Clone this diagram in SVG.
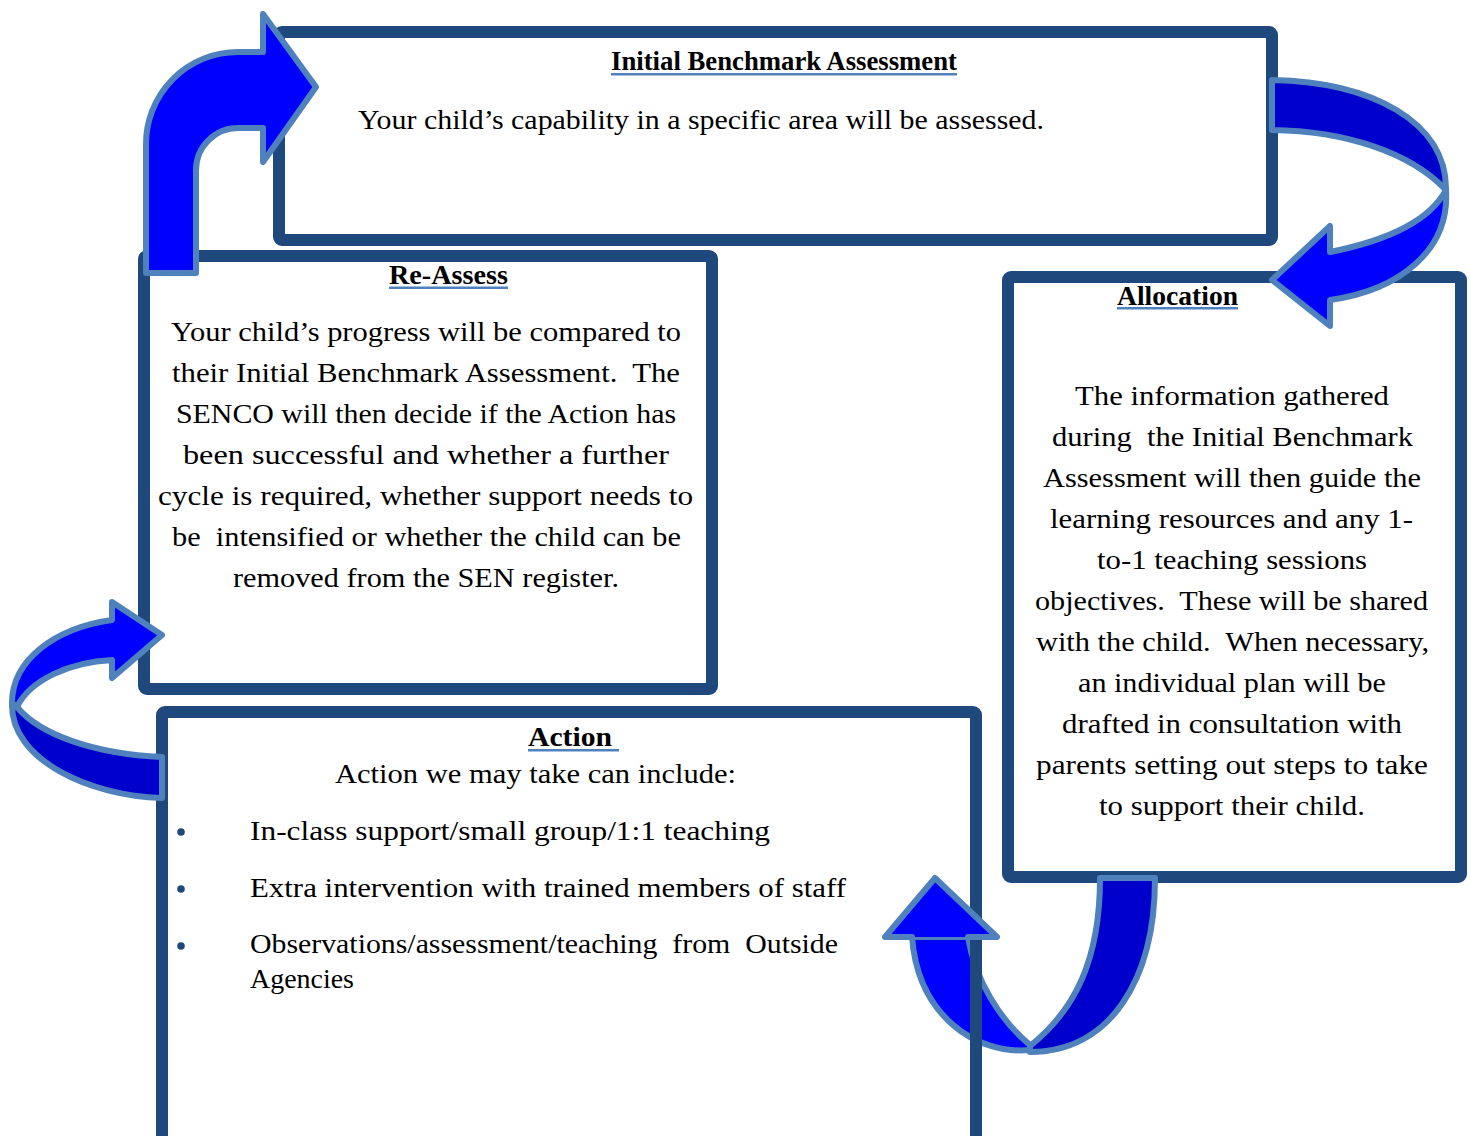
<svg xmlns="http://www.w3.org/2000/svg" width="1470" height="1136" viewBox="0 0 1470 1136" xml:space="preserve">
<style>
.box{fill:#fff;stroke:#1F497D;stroke-width:12;stroke-linejoin:round}
.t{font-family:"Liberation Serif",serif;font-size:28px;fill:#000;white-space:pre}
.h{font-family:"Liberation Serif",serif;font-size:28px;font-weight:bold;fill:#000}
.ul{fill:#4F81BD}
.lt{fill:#0000FF;stroke:#4F81BD;stroke-width:6;stroke-linejoin:round}
.dk{fill:#0000CC;stroke:#4F81BD;stroke-width:6;stroke-linejoin:round}
.hs{fill:none;stroke:#4F81BD;stroke-width:6;stroke-linejoin:round;stroke-linecap:round}
.bul{fill:#1F497D}
</style>
<defs>
<clipPath id="cut"><rect x="0" y="0" width="970" height="1136"/><rect x="982" y="0" width="488" height="1136"/></clipPath>
</defs>
<rect width="1470" height="1136" fill="#fff"/>
<g id="initial">
<rect class="box" x="279" y="32" width="993" height="208" rx="3"/>
<text class="h" x="611" y="70" textLength="346" lengthAdjust="spacingAndGlyphs">Initial Benchmark Assessment</text>
<rect class="ul" x="611" y="73" width="346" height="2.5"/>
<text class="t" x="358" y="129" textLength="686" lengthAdjust="spacingAndGlyphs">Your child’s capability in a specific area will be assessed.</text>
</g>
<g id="reassess">
<rect class="box" x="144" y="256" width="568" height="433" rx="3"/>
<text class="h" x="389" y="284" textLength="119" lengthAdjust="spacingAndGlyphs">Re-Assess</text>
<rect class="ul" x="389" y="286.5" width="119" height="2.5"/>
<text class="t" x="171" y="341" textLength="510" lengthAdjust="spacingAndGlyphs">Your child’s progress will be compared to</text>
<text class="t" x="172" y="382" textLength="508" lengthAdjust="spacingAndGlyphs">their Initial Benchmark Assessment.  The</text>
<text class="t" x="176" y="423" textLength="500" lengthAdjust="spacingAndGlyphs">SENCO will then decide if the Action has</text>
<text class="t" x="183" y="464" textLength="486" lengthAdjust="spacingAndGlyphs">been successful and whether a further</text>
<text class="t" x="158" y="505" textLength="535" lengthAdjust="spacingAndGlyphs">cycle is required, whether support needs to</text>
<text class="t" x="172" y="546" textLength="509" lengthAdjust="spacingAndGlyphs">be  intensified or whether the child can be</text>
<text class="t" x="233" y="587" textLength="386" lengthAdjust="spacingAndGlyphs">removed from the SEN register.</text>
</g>
<g id="allocation">
<rect class="box" x="1008" y="277" width="453" height="600" rx="3"/>
<text class="h" x="1117" y="305" textLength="121" lengthAdjust="spacingAndGlyphs">Allocation</text>
<rect class="ul" x="1117" y="307" width="121" height="2.5"/>
<text class="t" x="1075" y="405" textLength="314" lengthAdjust="spacingAndGlyphs">The information gathered</text>
<text class="t" x="1052" y="446" textLength="361" lengthAdjust="spacingAndGlyphs">during  the Initial Benchmark</text>
<text class="t" x="1043" y="487" textLength="378" lengthAdjust="spacingAndGlyphs">Assessment will then guide the</text>
<text class="t" x="1050" y="528" textLength="363" lengthAdjust="spacingAndGlyphs">learning resources and any 1-</text>
<text class="t" x="1097" y="569" textLength="270" lengthAdjust="spacingAndGlyphs">to-1 teaching sessions</text>
<text class="t" x="1035" y="610" textLength="393" lengthAdjust="spacingAndGlyphs">objectives.  These will be shared</text>
<text class="t" x="1036" y="651" textLength="393" lengthAdjust="spacingAndGlyphs">with the child.  When necessary,</text>
<text class="t" x="1078" y="692" textLength="308" lengthAdjust="spacingAndGlyphs">an individual plan will be</text>
<text class="t" x="1062" y="733" textLength="340" lengthAdjust="spacingAndGlyphs">drafted in consultation with</text>
<text class="t" x="1036" y="774" textLength="392" lengthAdjust="spacingAndGlyphs">parents setting out steps to take</text>
<text class="t" x="1099" y="815" textLength="266" lengthAdjust="spacingAndGlyphs">to support their child.</text>
</g>
<g id="action">
<rect class="box" x="162" y="712" width="814" height="440" rx="3"/>
<text class="h" x="528" y="746" textLength="84" lengthAdjust="spacingAndGlyphs">Action</text>
<rect class="ul" x="528" y="749" width="91" height="2.5"/>
<text class="t" x="335" y="783" textLength="401" lengthAdjust="spacingAndGlyphs">Action we may take can include:</text>
<circle class="bul" cx="181" cy="832" r="3.8"/>
<circle class="bul" cx="181" cy="889" r="3.8"/>
<circle class="bul" cx="181" cy="946" r="3.8"/>
<text class="t" x="250" y="840" textLength="520" lengthAdjust="spacingAndGlyphs">In-class support/small group/1:1 teaching</text>
<text class="t" x="250" y="897" textLength="596" lengthAdjust="spacingAndGlyphs">Extra intervention with trained members of staff</text>
<text class="t" x="250" y="953" textLength="588" lengthAdjust="spacingAndGlyphs">Observations/assessment/teaching  from  Outside</text>
<text class="t" x="250" y="988" textLength="104" lengthAdjust="spacingAndGlyphs">Agencies</text>
</g>
<g id="connectors">
<path class="lt" d="M146,273 V145 A92,92 0 0 1 238,52 H263 V14 L316,87 L263,162 V128 H238 A42,42 0 0 0 196,170 V273 Z"/>
<path class="dk" d="M1272,80 C1372,82 1447,122 1446,190 C1410,152 1345,131 1272,130 Z"/>
<path class="lt" d="M1446,190 C1450,250 1400,290 1330,300 L1330,326 L1272,280 L1330,226 L1330,252 C1390,240 1430,220 1446,190 Z"/>
<path class="lt" d="M12,703 C12,660 55,628 112,620 V602 L162,635 L112,678 V660 C70,662 30,680 17,707 Z"/>
<path class="dk" d="M12,703 C10,760 90,796 162,798 V757 C95,754 40,735 17,707 Z"/>
<g clip-path="url(#cut)">
<path class="dk" d="M1100,878 H1155 C1155,980 1110,1052 1030,1052 L1030,1046 C1075,1010 1100,960 1100,878 Z"/>
<path class="lt" d="M1030,1050 C975,1055 918,1015 912,937 L968,937 C975,980 1000,1020 1030,1045 Z"/>
</g>
<path d="M885,937 L935,878 L997,937 Z" fill="#0000FF"/>
<path class="hs" d="M912,937 H885 L935,878 L997,937 H968"/>
</g>
</svg>
